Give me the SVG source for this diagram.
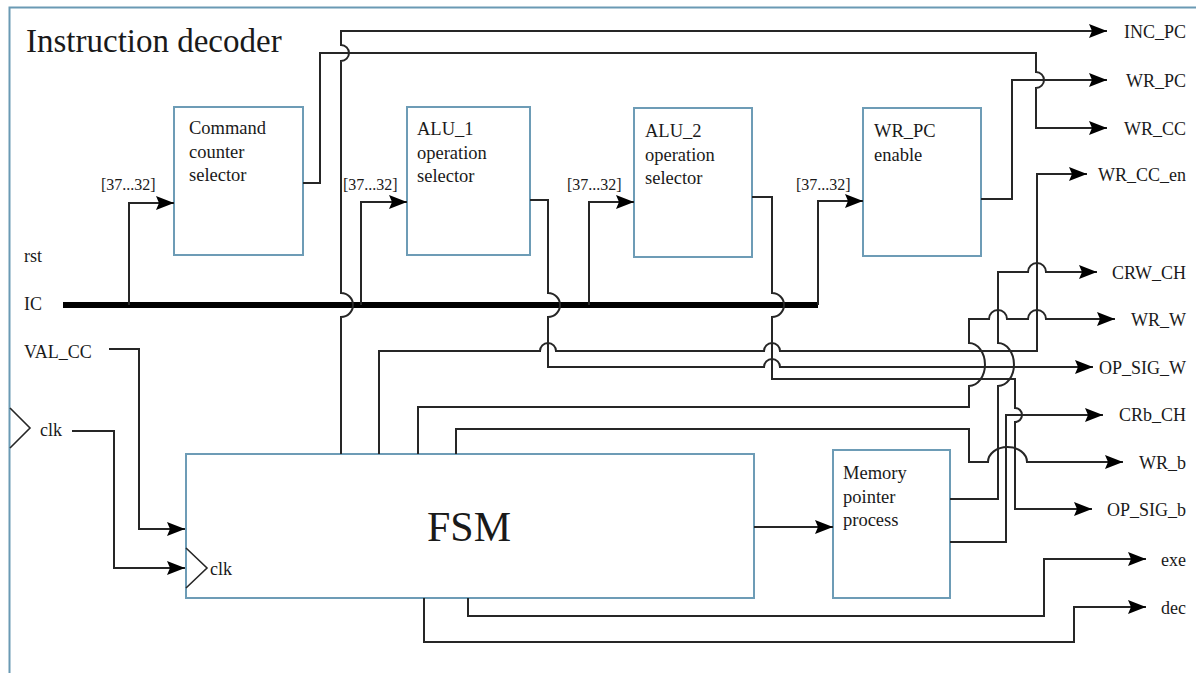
<svg xmlns="http://www.w3.org/2000/svg" width="1196" height="673" viewBox="0 0 1196 673">
  <style>
    .frame { fill: none; stroke: #6a9ab4; stroke-width: 2; }
    .box { fill: #ffffff; stroke: #6d9cb6; stroke-width: 2; }
    .wire { fill: none; stroke: #262626; stroke-width: 2; }
    .arrow { fill: none; stroke: #262626; stroke-width: 2; marker-end: url(#head); }
    .bus { fill: none; stroke: #000000; stroke-width: 6; }
    .clkmark { fill: none; stroke: #262626; stroke-width: 1.6; }
    text { font-family: "Liberation Serif", "Times New Roman", serif; fill: #1a1a1a; }
    .title { font-size: 33px; }
    .lbl { font-size: 18px; }
    .blk { font-size: 18.5px; }
    .small { font-size: 16px; }
    .out { font-size: 18px; text-anchor: end; }
    .big { font-size: 42px; text-anchor: middle; }
  </style>
  <defs>
    <marker id="head" markerUnits="userSpaceOnUse" viewBox="0 0 18 14" refX="18" refY="7" markerWidth="18" markerHeight="14" orient="auto">
      <path d="M0,0 L18,7 L0,14 L3,7 z" fill="#000000"/>
    </marker>
  </defs>

  <rect width="1196" height="673" fill="#ffffff"/>

  <!-- outer frame -->
  <path class="frame" d="M9.5,673 V7.5 H1196"/>
  <polyline class="clkmark" points="10,408 30,428 10,448"/>

  <text class="title" x="26" y="52">Instruction decoder</text>

  <!-- input labels -->
  <text class="lbl" x="24" y="262">rst</text>
  <text class="lbl" x="24" y="310">IC</text>
  <text class="lbl" x="24" y="358">VAL_CC</text>
  <text class="lbl" x="40" y="436">clk</text>

  <!-- blocks -->
  <g id="cmd-counter-selector">
    <rect class="box" x="174" y="107" width="129" height="148"/>
    <text class="blk" x="189" y="134">Command</text>
    <text class="blk" x="189" y="158">counter</text>
    <text class="blk" x="189" y="181">selector</text>
  </g>
  <g id="alu1-selector">
    <rect class="box" x="407" y="107" width="123" height="148"/>
    <text class="blk" x="417" y="135">ALU_1</text>
    <text class="blk" x="417" y="159">operation</text>
    <text class="blk" x="417" y="182">selector</text>
  </g>
  <g id="alu2-selector">
    <rect class="box" x="634" y="108" width="118" height="149"/>
    <text class="blk" x="645" y="137">ALU_2</text>
    <text class="blk" x="645" y="161">operation</text>
    <text class="blk" x="645" y="184">selector</text>
  </g>
  <g id="wr-pc-enable">
    <rect class="box" x="863" y="108" width="118" height="148"/>
    <text class="blk" x="874" y="137">WR_PC</text>
    <text class="blk" x="874" y="161">enable</text>
  </g>
  <g id="fsm">
    <rect class="box" x="186" y="454" width="568" height="144"/>
    <text class="big" x="469" y="541">FSM</text>
    <polyline class="clkmark" points="186,548 207,568 186,588"/>
    <text class="lbl" x="210" y="575">clk</text>
  </g>
  <g id="memory-pointer-process">
    <rect class="box" x="833" y="450" width="117" height="148"/>
    <text class="blk" x="843" y="479">Memory</text>
    <text class="blk" x="843" y="503">pointer</text>
    <text class="blk" x="843" y="526">process</text>
  </g>

  <!-- output labels -->
  <g id="outputs">
    <text class="out" x="1186" y="38">INC_PC</text>
    <text class="out" x="1186" y="87">WR_PC</text>
    <text class="out" x="1186" y="135">WR_CC</text>
    <text class="out" x="1186" y="181">WR_CC_en</text>
    <text class="out" x="1186" y="279">CRW_CH</text>
    <text class="out" x="1186" y="326">WR_W</text>
    <text class="out" x="1186" y="374">OP_SIG_W</text>
    <text class="out" x="1186" y="421">CRb_CH</text>
    <text class="out" x="1186" y="469">WR_b</text>
    <text class="out" x="1186" y="516">OP_SIG_b</text>
    <text class="out" x="1186" y="566">exe</text>
    <text class="out" x="1186" y="614">dec</text>
  </g>

  <!-- connectors -->
  <g id="connectors">
    <!-- IC bus and opcode taps -->
    <path class="bus" d="M63,305 H818"/>
    <path class="arrow" d="M129,305 V203 H174"/>
    <path class="arrow" d="M361,305 V202 H407"/>
    <path class="arrow" d="M589,305 V202 H634"/>
    <path class="arrow" d="M818,305 V201 H863"/>
    <text class="small" x="101" y="190">[37...32]</text>
    <text class="small" x="343" y="190">[37...32]</text>
    <text class="small" x="567" y="190">[37...32]</text>
    <text class="small" x="796" y="190">[37...32]</text>

    <!-- FSM inputs -->
    <path class="arrow" d="M109,349 H139 V529 H185"/>
    <path class="arrow" d="M72,431 H114 V568 H185"/>

    <!-- INC_PC -->
    <path class="arrow" d="M341,454 V317 A12,12 0 0 0 341,293 V61 A8,8 0 0 0 341,45 V31 H1107"/>
    <!-- WR_CC from command counter selector -->
    <path class="arrow" d="M303,183 H320 V53 H1036 V72 A8,8 0 0 1 1036,88 V128 H1107"/>
    <!-- WR_PC -->
    <path class="arrow" d="M981,199 H1012 V80 H1107"/>
    <!-- WR_CC_en -->
    <path class="arrow" d="M379,454 V351 H540 A8,8 0 0 1 556,351 H764 A8,8 0 0 1 780,351 H1037 V174 H1087"/>
    <!-- OP_SIG_W from ALU_1 -->
    <path class="arrow" d="M530,200 H548 V293 A12,12 0 0 1 548,317 V367 H764 A8,8 0 0 1 780,367 H1093"/>
    <!-- OP_SIG_b from ALU_2 -->
    <path class="arrow" d="M752,197 H772 V293 A12,12 0 0 1 772,317 V379 H1015 V408 A7,7 0 0 1 1015,422 V509 H1092"/>
    <!-- CRW_CH from memory pointer -->
    <path class="arrow" d="M950,499 H998 V386 A16,21.5 0 0 0 998,343 V272 H1028 A9,9 0 0 1 1046,272 H1097"/>
    <!-- WR_W -->
    <path class="arrow" d="M418,454 V407 H969 V386 A16,21.5 0 0 0 969,343 V319 H989 A9,9 0 0 1 1007,319 H1028 A9,9 0 0 1 1046,319 H1115"/>
    <!-- WR_b -->
    <path class="arrow" d="M456,454 V429 H969 V462 H988 A19.5,15 0 0 1 1027,462 H1123"/>
    <!-- CRb_CH from memory pointer -->
    <path class="arrow" d="M950,542 H1006 V415 H1103"/>
    <!-- FSM to memory pointer -->
    <path class="arrow" d="M754,527 H833"/>
    <!-- exe / dec -->
    <path class="arrow" d="M468,598 V616 H1044 V559 H1146"/>
    <path class="arrow" d="M424,598 V642 H1074 V607 H1146"/>
  </g>
</svg>
